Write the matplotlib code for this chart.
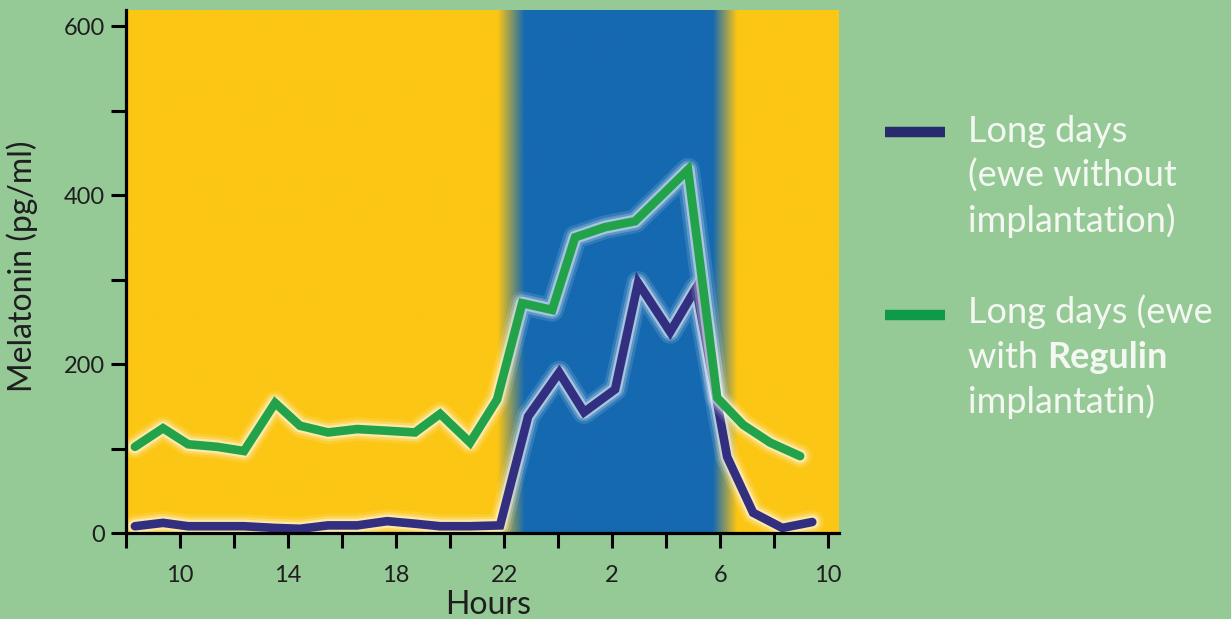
import numpy as np
import matplotlib
matplotlib.use('Agg')
from matplotlib import pyplot as plt
from matplotlib.lines import Line2D

# values; hours counted from midnight of day 1 (24+ = next morning)
green_hours = [8.33, 9.37, 10.30, 11.37, 12.37, 13.52, 14.44, 15.48, 16.56, 17.67, 18.70, 19.63, 20.74,
               21.74, 22.67, 23.78, 24.63, 25.74, 26.85, 27.85, 28.81, 29.89, 30.85, 31.85, 32.96]
green_values = [102, 124, 105, 102, 97, 154, 127, 119, 123, 121, 119, 141, 107,
                158, 272, 264, 350, 362, 369, 400, 430, 160, 128, 107, 91]

blue_hours = [8.33, 9.37, 10.30, 11.37, 12.37, 13.52, 14.44, 15.48, 16.56, 17.67, 18.70, 19.63, 20.74,
              21.85, 22.89, 24.04, 24.96, 26.11, 26.96, 28.15, 29.11, 30.26, 31.22, 32.30, 33.41]
blue_values = [8, 12, 8, 8, 8, 6, 5, 9, 9, 14, 11, 8, 8,
               9, 138, 190, 143, 170, 296, 238, 290, 90, 24, 6, 13]

hour_ticks = list(range(8, 35, 2))
hour_labels = ['', '10', '', '14', '', '18', '', '22', '', '2', '', '6', '', '10']
mel_ticks = [0, 100, 200, 300, 400, 500, 600]
mel_labels = ['0', '', '200', '', '400', '', '600']

night_start = 22.26
night_end = 30.19

bg = '#95CA97'
yellow = np.array([252, 198, 20]) / 255
blue_bg = np.array([21, 105, 176]) / 255
line_blue = '#322E80'
line_green = '#22A34A'
text_col = '#F5F8F2'

plt.rcParams['font.family'] = ['Lato', 'DejaVu Sans']

fig = plt.figure(figsize=(12.31, 6.19), dpi=100, facecolor=bg)
W, H = 1231, 619
ax = fig.add_axes([126 / W, 1 - 533 / H, (839 - 126) / W, (533 - 10) / H])

xmin, xmax, ymax = 8, 34.4, 619

# day / night background with blurred edges
xs = np.linspace(xmin, xmax, 1200)
left = np.clip((xs - (night_start - 0.5)) / 1.0, 0, 1)
right = np.clip(((night_end + 0.45) - xs) / 0.9, 0, 1)
w = (left * right)[:, None]
img = yellow * (1 - w) + blue_bg * w
ax.imshow(img[np.newaxis, :, :], extent=[xmin, xmax, 0, ymax], aspect='auto',
          interpolation='bilinear', zorder=0)

# lines with a soft light glow
for hrs, vals, col, z in [(blue_hours, blue_values, line_blue, 2), (green_hours, green_values, line_green, 4)]:
    for lw, a in [(17, 0.12), (13, 0.22), (9.5, 0.45)]:
        ax.plot(hrs, vals, color='white', lw=lw, alpha=a, solid_capstyle='round',
                solid_joinstyle='round', zorder=z)
    ax.plot(hrs, vals, color=col, lw=6.2, solid_capstyle='round', solid_joinstyle='miter', zorder=z + 0.5)

ax.set_xlim(xmin, xmax)
ax.set_ylim(0, ymax)
ax.set_xticks(hour_ticks)
ax.set_xticklabels(hour_labels)
ax.set_yticks(mel_ticks)
ax.set_yticklabels(mel_labels)
ax.tick_params(axis='both', direction='out', length=11, width=2.2, color='black',
               labelsize=17, labelcolor='#1E1E1E')
ax.tick_params(axis='x', pad=12)
ax.tick_params(axis='y', pad=4)
for s in ['top', 'right']:
    ax.spines[s].set_visible(False)
for s in ['left', 'bottom']:
    ax.spines[s].set_linewidth(2.3)
    ax.spines[s].set_color('black')
    ax.spines[s].set_zorder(10)

fig.text(488 / W, 1 - 614 / H, 'Hours', fontsize=23, color='#1E1E1E', ha='center', va='baseline')
fig.text(22 / W, 1 - 266 / H, 'Melatonin (pg/ml)', fontsize=23, color='#1E1E1E',
         rotation=90, ha='center', va='center')

# legend, drawn by hand
fig.add_artist(Line2D([885 / W, 945 / W], [1 - 132 / H, 1 - 132 / H], color='#272B6E', lw=7.5,
                      solid_capstyle='butt'))
fig.add_artist(Line2D([885 / W, 945 / W], [1 - 315 / H, 1 - 315 / H], color='#0E9A48', lw=7.5,
                      solid_capstyle='butt'))

tx = 968 / W
lkw = dict(fontsize=26, color=text_col, fontweight='normal', va='baseline', ha='left')
fig.text(tx, 1 - 142 / H, 'Long days', **lkw)
fig.text(tx, 1 - 187 / H, '(ewe without', **lkw)
fig.text(tx, 1 - 232 / H, 'implantation)', **lkw)
fig.text(tx, 1 - 323 / H, 'Long days (ewe', **lkw)
t_with = fig.text(tx, 1 - 368 / H, 'with ', **lkw)
fig.text(tx, 1 - 413 / H, 'implantatin)', **lkw)

r = fig.canvas.get_renderer()
bb = t_with.get_window_extent(renderer=r)
bkw = dict(lkw)
bkw['fontweight'] = 'bold'
fig.text(bb.x1 / (fig.dpi * fig.get_figwidth()), 1 - 368 / H, 'Regulin', **bkw)

fig.savefig('out.png', dpi=100, facecolor=bg)
